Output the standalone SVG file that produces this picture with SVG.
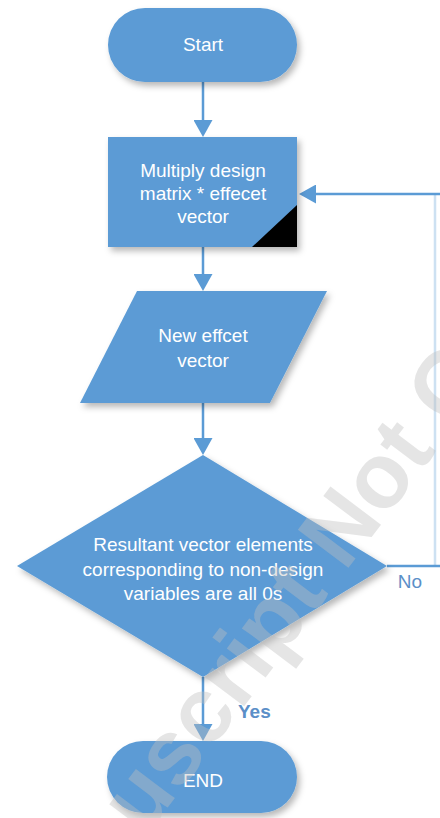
<svg xmlns="http://www.w3.org/2000/svg" width="440" height="818" viewBox="0 0 440 818">
<style>
.shape{fill:#5B9BD5;filter:url(#sh)}
.lbl{font-family:"Liberation Sans",Arial,sans-serif;font-size:19px;fill:#ffffff;text-anchor:middle}
.conn{stroke:#5B9BD5;stroke-width:2.5;fill:none}
.edge{font-family:"Liberation Sans",Arial,sans-serif;font-size:19px;fill:#5B8FC8}
</style>
<defs>
<filter id="sh" x="-10%" y="-10%" width="125%" height="130%">
<feDropShadow dx="3" dy="4" stdDeviation="3" flood-color="#000" flood-opacity="0.28"/>
</filter>
<marker id="ah" viewBox="0 0 17 19" refX="1" refY="9.5" markerWidth="17" markerHeight="19" markerUnits="userSpaceOnUse" orient="auto">
<path d="M0,0 L17,9.5 L0,19 z" fill="#5B9BD5"/>
</marker>
</defs>
<rect width="440" height="818" fill="#ffffff"/>
<g id="connectors">
<line class="conn" x1="203" y1="82" x2="203" y2="121" marker-end="url(#ah)"/>
<line class="conn" x1="203" y1="247" x2="203" y2="275" marker-end="url(#ah)"/>
<line class="conn" x1="203" y1="403" x2="203" y2="439" marker-end="url(#ah)"/>
<line class="conn" x1="203" y1="677" x2="203" y2="725" marker-end="url(#ah)"/>
<path class="conn" d="M387,566 H440"/>
<path class="conn" d="M435,566 V194" stroke-opacity="0.3"/>
<path class="conn" d="M440,194 H315" marker-end="url(#ah)"/>
<text class="edge" x="410" y="588" text-anchor="middle">No</text>
<text class="edge" x="238" y="718" font-weight="bold" font-size="17">Yes</text>
</g>
<g id="start">
<rect class="shape" x="108" y="8" width="189" height="74" rx="37"/>
<text class="lbl" x="203" y="51">Start</text>
</g>
<g id="multiply">
<rect class="shape" x="108" y="137" width="189" height="110"/>
<path d="M252,247 L297,247 L297,205 z" fill="#000"/>
<text class="lbl" x="203" y="177">Multiply design</text>
<text class="lbl" x="203" y="200">matrix * effecet</text>
<text class="lbl" x="203" y="223">vector</text>
</g>
<g id="newvector">
<polygon class="shape" points="137,291 327,291 270,403 80,403"/>
<text class="lbl" x="203" y="342">New effcet</text>
<text class="lbl" x="203" y="367">vector</text>
</g>
<g id="decision">
<polygon class="shape" points="203,455 387,566 203,677 17,566"/>
<text class="lbl" x="203" y="551">Resultant vector elements</text>
<text class="lbl" x="203" y="576">corresponding to non-design</text>
<text class="lbl" x="203" y="600">variables are all 0s</text>
</g>
<g id="end">
<rect class="shape" x="107" y="741" width="190" height="72" rx="36"/>
<text class="lbl" x="203" y="787" font-size="18">END</text>
</g>
<text x="34" y="985" transform="rotate(-53 34 985)" font-family="Liberation Sans,Arial,sans-serif" font-weight="bold" font-size="92" fill="#bfbfbf" fill-opacity="0.4">Manuscript Not Copyedited</text>
</svg>
